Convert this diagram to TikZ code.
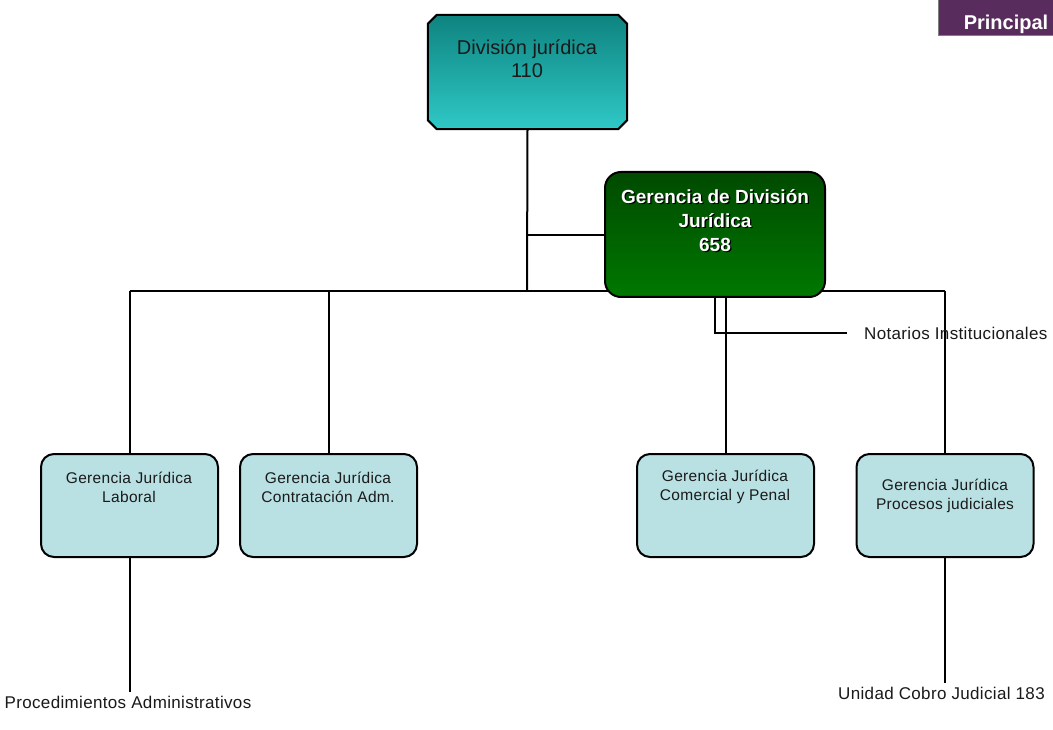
\documentclass[tikz,border=0pt]{standalone}
\usepackage{fontspec}
\setmainfont{Liberation Sans}
\pgfdeclarelayer{bg}
\pgfsetlayers{bg,main}
\definecolor{tealtop}{HTML}{0E8380}
\definecolor{tealbot}{HTML}{2FC9C6}
\definecolor{greentop}{HTML}{004A00}
\definecolor{greenbot}{HTML}{007800}
\definecolor{lightbox}{HTML}{B9E0E3}
\definecolor{purplebox}{HTML}{582C5C}
\definecolor{txtgray}{HTML}{1A1A1A}
\newcommand\shtxt[1]{\leavevmode\rlap{\hspace{1.3pt}\raisebox{-1.3pt}{\color{black}#1}}#1}
\tikzset{
  conn/.style={line width=2pt, black},
  subbox/.style={draw=black, line width=2pt, fill=lightbox, rounded corners=13pt,
    minimum width=177pt, minimum height=103pt, inner sep=0pt},
  subtxt/.style={align=center, font=\fontsize{15.5}{19}\selectfont\addfontfeatures{LetterSpace=2}, text=txtgray, inner sep=0pt},
  freetxt/.style={font=\fontsize{17}{20}\selectfont\addfontfeatures{LetterSpace=2}, text=txtgray, inner sep=0pt},
}
\begin{document}
\begin{tikzpicture}[x=1pt,y=-1pt]
\useasboundingbox (0,0) rectangle (1053,730);
\begin{pgfonlayer}{bg}
\fill[white] (0,0) rectangle (1053,730);
\end{pgfonlayer}

% top box (chamfered)
\node[minimum width=199pt, minimum height=114pt, inner sep=0pt] (top) at (527.5,72) {};
\draw[line width=2pt, top color=tealtop, bottom color=tealbot]
  ([xshift=9pt]top.north west) -- ([xshift=-9pt]top.north east)
  -- ([yshift=-9pt]top.north east) -- ([yshift=9pt]top.south east)
  -- ([xshift=-9pt]top.south east) -- ([xshift=9pt]top.south west)
  -- ([yshift=9pt]top.south west) -- ([yshift=-9pt]top.north west) -- cycle;
\node[align=center, font=\fontsize{20}{23}\selectfont, text=txtgray, inner sep=0pt] (toptxt) at (527,59) {División jurídica\\110};

% green box
\node[draw=black, line width=2pt, rounded corners=16pt, top color=greentop, bottom color=greenbot,
  minimum width=220pt, minimum height=125pt, inner sep=0pt] (green) at (715,234.5) {};
\node[align=center, font=\bfseries\fontsize{19}{24}\selectfont, text=white, inner sep=0pt] (greentxt) at (715,221)
  {\shtxt{Gerencia de División}\\\shtxt{Jurídica}\\\shtxt{658}};

% sub boxes
\node[subbox] (lab) at (129.5,505.5) {};
\node[subtxt] (labtxt) at (129,487) {Gerencia Jurídica\\Laboral};
\node[subbox] (con) at (328.5,505.5) {};
\node[subtxt] (contxt) at (328,487) {Gerencia Jurídica\\Contratación Adm.};
\node[subbox] (com) at (725.5,505.5) {};
\node[subtxt] (comtxt) at (725,487) {Gerencia Jurídica\\Comercial y Penal};
\node[subbox] (pro) at (945,505.5) {};
\node[subtxt] (protxt) at (945,496) {Gerencia Jurídica\\Procesos judiciales};

% free labels
\coordinate (notend) at (847,333);
\node[freetxt, anchor=west] (notlbl) at (864,333) {Notarios Institucionales};
\node[freetxt, anchor=north, inner ysep=4pt] (proclbl) at (128,692) {Procedimientos Administrativos};
\node[freetxt, anchor=north, inner ysep=4pt] (unilbl) at (941.5,683) {Unidad Cobro Judicial 183};

% purple box (partly outside)
\begin{scope}
\clip (0,0) rectangle (1053,730);
\node[draw=gray, line width=1pt, fill=purplebox, minimum width=130pt, minimum height=45pt, inner sep=0pt] (purple) at (1003,13) {};
\end{scope}
\node[font=\bfseries\fontsize{20}{24}\selectfont, text=white, anchor=base, inner sep=0pt] (pprinc) at (1006,30) {Principal};

% connectors
\coordinate (j1) at (527,235);
\coordinate (j2) at (527,291);
\begin{pgfonlayer}{bg}
\draw[conn] (top.south) -- (j2);
\draw[conn] (j1) -- (green.west |- j1);
\draw[conn] (lab.north |- j2) -- (pro.north |- j2);
\draw[conn] (lab.north |- j2) -- (lab.north);
\draw[conn] (con.north |- j2) -- (con.north);
\draw[conn] (com.north |- j2) -- (com.north);
\draw[conn] (pro.north |- j2) -- (pro.north);
\draw[conn] (green.south) |- (notend);
\draw[conn] (lab.south) -- (proclbl.north -| lab.south);
\draw[conn] (pro.south) -- (unilbl.north -| pro.south);
\end{pgfonlayer}
\end{tikzpicture}
\end{document}
